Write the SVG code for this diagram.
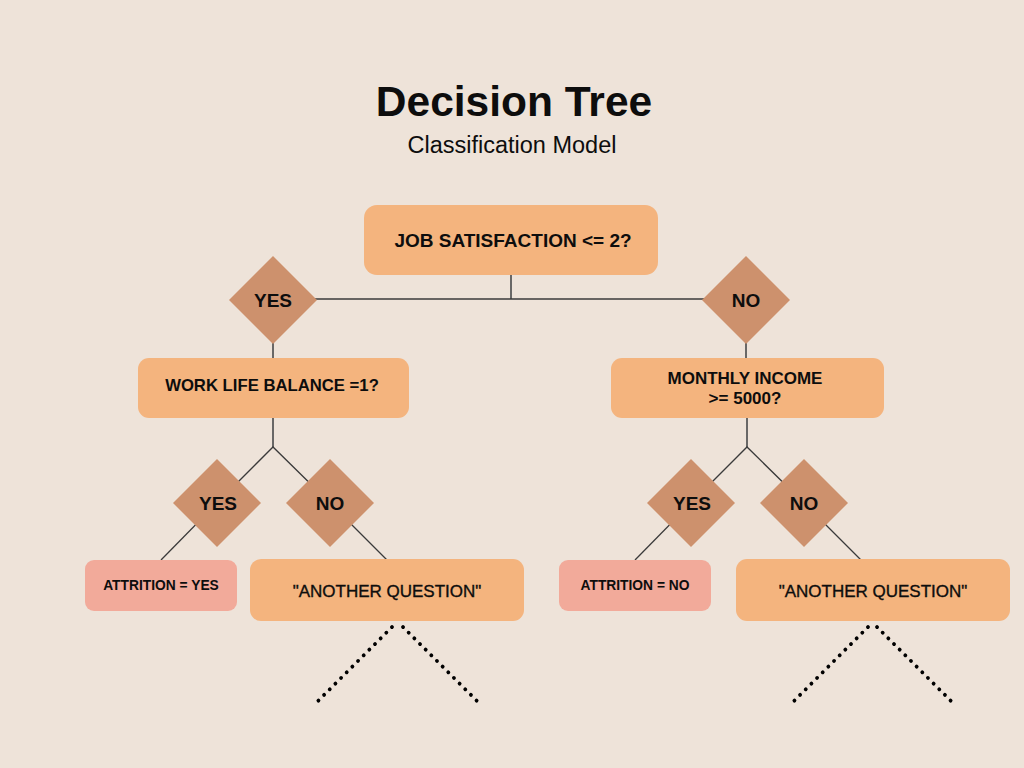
<svg xmlns="http://www.w3.org/2000/svg" width="1024" height="768" viewBox="0 0 1024 768">
  <style>
    .q { fill: #F4B47E; }
    .leaf { fill: #F2AA9A; }
    .dia { fill: #CD916D; }
    .t { font-family: "Liberation Sans", Arial, sans-serif; fill: #0d0d0d; text-anchor: middle; }
    .b { font-weight: bold; }
    .ln { stroke: #3a3a3a; stroke-width: 1.3; fill: none; }
    .vl { stroke: #5a5a5a; stroke-width: 1.8; fill: none; }
    .dot { stroke: #000; stroke-width: 3.8; stroke-linecap: round; stroke-dasharray: 0.1 7.9; fill: none; }
  </style>
  <rect width="1024" height="768" fill="#EEE3D9"/>

  <g id="title">
    <text class="t b" x="514" y="116" font-size="42.5">Decision Tree</text>
    <text class="t" x="512" y="153" font-size="23.5">Classification Model</text>
  </g>

  <g id="connectors">
    <line class="vl" x1="511" y1="275" x2="511" y2="299"/>
    <line class="ln" x1="300" y1="299" x2="720" y2="299"/>
    <line class="vl" x1="273" y1="330" x2="273" y2="358"/>
    <line class="vl" x1="746" y1="330" x2="746" y2="358"/>
    <line class="vl" x1="273" y1="418" x2="273" y2="447"/>
    <polyline class="ln" points="217,503 273,447 330,503"/>
    <line class="ln" x1="217" y1="503" x2="161" y2="560"/>
    <line class="ln" x1="330" y1="503" x2="387" y2="560"/>
    <line class="vl" x1="747" y1="418" x2="747" y2="447"/>
    <polyline class="ln" points="691,503 747,447 804,503"/>
    <line class="ln" x1="691" y1="503" x2="635" y2="560"/>
    <line class="ln" x1="804" y1="503" x2="861" y2="560"/>
    <line class="dot" x1="392" y1="627" x2="318" y2="701"/>
    <line class="dot" x1="403" y1="627" x2="477" y2="701"/>
    <line class="dot" x1="868" y1="627" x2="794" y2="701"/>
    <line class="dot" x1="877" y1="627" x2="951" y2="701"/>
  </g>

  <g id="n-job">
    <rect class="q" x="364" y="205" width="294" height="70" rx="13"/>
    <text class="t b" x="513" y="247" font-size="19">JOB SATISFACTION &lt;= 2?</text>
  </g>

  <g id="d-yes-top">
    <polygon class="dia" points="273,256 317,300 273,344 229,300"/>
    <text class="t b" x="273" y="307" font-size="19">YES</text>
  </g>
  <g id="d-no-top">
    <polygon class="dia" points="746,256 790,300 746,344 702,300"/>
    <text class="t b" x="746" y="307" font-size="19">NO</text>
  </g>

  <g id="n-wlb">
    <rect class="q" x="138" y="358" width="271" height="60" rx="11"/>
    <text class="t b" x="272" y="391" font-size="16.7">WORK LIFE BALANCE =1?</text>
  </g>
  <g id="n-income">
    <rect class="q" x="611" y="358" width="273" height="60" rx="11"/>
    <text class="t b" x="745" y="384" font-size="17">MONTHLY INCOME</text>
    <text class="t b" x="745" y="404" font-size="17">&gt;= 5000?</text>
  </g>

  <g id="d-yes-l">
    <polygon class="dia" points="217,459 261,503 217,547 173,503"/>
    <text class="t b" x="218" y="510" font-size="19">YES</text>
  </g>
  <g id="d-no-l">
    <polygon class="dia" points="330,459 374,503 330,547 286,503"/>
    <text class="t b" x="330" y="510" font-size="19">NO</text>
  </g>
  <g id="d-yes-r">
    <polygon class="dia" points="691,459 735,503 691,547 647,503"/>
    <text class="t b" x="692" y="510" font-size="19">YES</text>
  </g>
  <g id="d-no-r">
    <polygon class="dia" points="804,459 848,503 804,547 760,503"/>
    <text class="t b" x="804" y="510" font-size="19">NO</text>
  </g>

  <g id="n-attr-yes">
    <rect class="leaf" x="85" y="560" width="152" height="51" rx="9"/>
    <text class="t b" x="161" y="590" font-size="13.8">ATTRITION = YES</text>
  </g>
  <g id="n-another-l">
    <rect class="q" x="250" y="559" width="274" height="62" rx="11"/>
    <text class="t" x="387" y="597" font-size="17" stroke="#0d0d0d" stroke-width="0.35">"ANOTHER QUESTION"</text>
  </g>
  <g id="n-attr-no">
    <rect class="leaf" x="559" y="560" width="152" height="51" rx="9"/>
    <text class="t b" x="635" y="590" font-size="13.8">ATTRITION = NO</text>
  </g>
  <g id="n-another-r">
    <rect class="q" x="736" y="559" width="274" height="62" rx="11"/>
    <text class="t" x="873" y="597" font-size="17" stroke="#0d0d0d" stroke-width="0.35">"ANOTHER QUESTION"</text>
  </g>
</svg>
